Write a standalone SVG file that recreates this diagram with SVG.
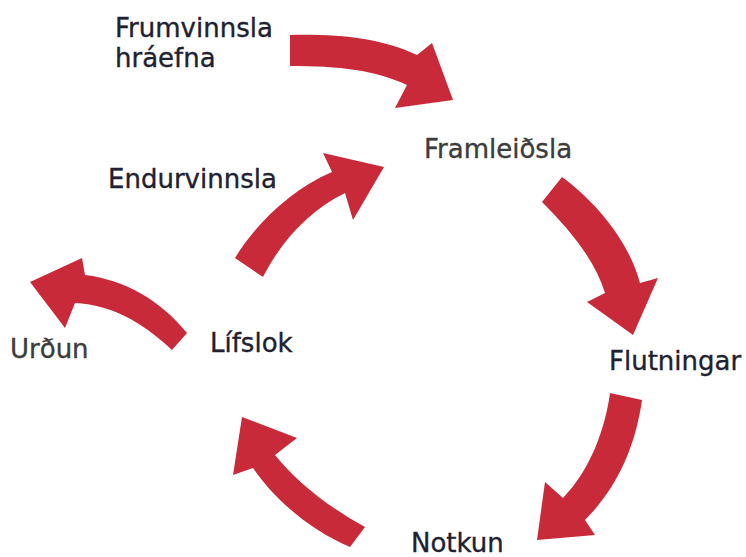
<svg xmlns="http://www.w3.org/2000/svg" width="746" height="557" viewBox="0 0 746 557">
<style>
.arrow{fill:#c92a39;stroke:none}
.lbl{font-family:"DejaVu Sans",sans-serif;font-size:26px;fill:#1e2230;stroke:#1e2230;stroke-width:0.35}
.grey{fill:#3c3c3c;stroke:#3c3c3c}
</style>
<rect width="746" height="557" fill="#ffffff"/>
<g id="connectors">
<path id="a-raw" class="arrow" d="M290,35 C340,34 380,38 417,55 L432,43 L453,100 L395,108 L407,85 C375,70 340,66 290,66 Z"/>
<path id="a-recycle" class="arrow" d="M235,258 C255,225 290,190 332,172 L323,153 L384,167 L353,220 L345,193 C310,210 282,240 263,277 Z"/>
<path id="a-prod" class="arrow" d="M542,202 C570,230 595,260 605,293 L587,302 L633,335 L658,278 L640,283 C630,245 600,205 562,177 Z"/>
<path id="a-trans" class="arrow" d="M610,393 C605,430 590,470 563,498 L545,482 L537,540 L595,535 L585,520 C615,490 635,450 642,400 Z"/>
<path id="a-use" class="arrow" d="M365,527 C325,505 295,480 275,455 L297,438 L242,417 L233,475 L253,468 C275,500 310,530 350,547 Z"/>
<path id="a-eol" class="arrow" d="M187,333 C160,300 125,280 85,275 L82,258 L30,282 L65,328 L75,303 C110,305 140,320 172,350 Z"/>
</g>
<g id="n-raw"><text class="lbl" x="115" y="37" font-size="27">Frumvinnsla</text><text class="lbl" x="115" y="67" font-size="27">hráefna</text></g>
<g id="n-prod"><text class="lbl grey" x="424" y="158" font-size="25">Framleiðsla</text></g>
<g id="n-recycle"><text class="lbl" x="108" y="188">Endurvinnsla</text></g>
<g id="n-eol"><text class="lbl" x="210" y="352">Lífslok</text></g>
<g id="n-landfill"><text class="lbl grey" x="10" y="358" font-size="25">Urðun</text></g>
<g id="n-trans"><text class="lbl" x="609" y="370" font-size="25">Flutningar</text></g>
<g id="n-use"><text class="lbl" x="411" y="552" font-size="27">Notkun</text></g>
</svg>
